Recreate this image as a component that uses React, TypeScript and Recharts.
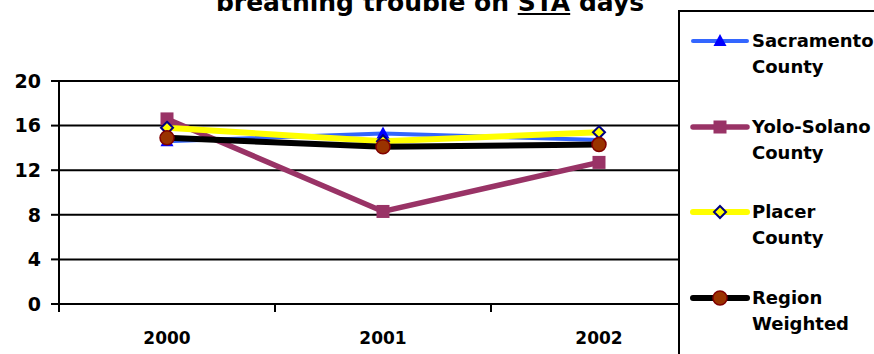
import React from 'react';
import { LineChart, Line, XAxis, YAxis, CartesianGrid, Legend } from 'recharts';

const years = ['2000', '2001', '2002'];
const sacramento = [14.6, 15.3, 14.7];
const yoloSolano = [16.6, 8.3, 12.7];
const placer = [15.8, 14.6, 15.4];
const regionWeighted = [14.9, 14.1, 14.3];
const yTicks = [0, 4, 8, 12, 16, 20];

const W = 874;
const H = 354;
const FONT = '"DejaVu Sans", Arial, sans-serif';

// x runs on a number scale so tick marks can sit between the years
const data = years.map((year, i) => ({
  x: i + 0.5,
  year,
  sacramento: sacramento[i],
  yoloSolano: yoloSolano[i],
  placer: placer[i],
  regionWeighted: regionWeighted[i],
}));

type Shape = 'triangle' | 'square' | 'diamond' | 'circle';

const series: { key: string; name: string; color: string; width: number; shape: Shape }[] = [
  { key: 'sacramento', name: 'Sacramento County', color: '#3366FF', width: 4, shape: 'triangle' },
  { key: 'yoloSolano', name: 'Yolo-Solano County', color: '#993366', width: 5.5, shape: 'square' },
  { key: 'placer', name: 'Placer County', color: '#FFFF00', width: 6, shape: 'diamond' },
  { key: 'regionWeighted', name: 'Region Weighted', color: '#000000', width: 6, shape: 'circle' },
];

const Marker = ({ cx, cy, shape }: { cx: number; cy: number; shape: Shape }) => {
  if (shape === 'triangle') {
    return <polygon points={`${cx},${cy - 7} ${cx - 6.5},${cy + 5} ${cx + 6.5},${cy + 5}`} fill="#0000FF" />;
  }
  if (shape === 'square') {
    return <rect x={cx - 6.5} y={cy - 6.5} width={13} height={13} fill="#993366" />;
  }
  if (shape === 'diamond') {
    return (
      <polygon
        points={`${cx},${cy - 6} ${cx + 6},${cy} ${cx},${cy + 6} ${cx - 6},${cy}`}
        fill="#FFFF00"
        stroke="#000080"
        strokeWidth={2}
      />
    );
  }
  return <circle cx={cx} cy={cy} r={7} fill="#993300" stroke="#800000" strokeWidth={1.5} />;
};

const X_TICK = 8;
const X_GAP = 20;

const XTick = (props: any) => {
  const { x, y, payload } = props;
  const v = payload.value;
  if (Number.isInteger(v)) {
    return <line x1={x} x2={x} y1={y - X_TICK - X_GAP} y2={y - X_GAP} stroke="#000" strokeWidth={2} />;
  }
  const label = years[Math.floor(v)];
  return (
    <text x={x} y={y} dy="0.71em" textAnchor="middle" fontFamily={FONT} fontWeight="bold" fontSize={17} fill="#000">
      {label}
    </text>
  );
};

const renderLegend = (props: any) => {
  const items = (props.payload || []) as any[];
  // keep series order rather than the legend's sorted order
  const rows = series.filter((s) => items.some((it) => it.dataKey === s.key));
  return (
    <div style={{ paddingTop: 16, paddingLeft: 10 }}>
      {rows.map((s) => {
        const [first, ...rest] = s.name.split(' ');
        return (
          <div key={s.key} style={{ display: 'flex', height: 85.5, alignItems: 'flex-start' }}>
            <svg width={62} height={26} style={{ flex: 'none' }}>
              <line x1={3} x2={57} y1={13} y2={13} stroke={s.color} strokeWidth={s.width} strokeLinecap="round" />
              <Marker cx={30} cy={13} shape={s.shape} />
            </svg>
            <div
              style={{
                fontFamily: FONT,
                fontWeight: 'bold',
                fontSize: 18,
                lineHeight: '26px',
                color: '#000',
                whiteSpace: 'nowrap',
              }}
            >
              <div>{first}</div>
              <div>{rest.join(' ')}</div>
            </div>
          </div>
        );
      })}
    </div>
  );
};

export default function App() {
  return (
    <div style={{ position: 'absolute', left: 0, top: 0, width: W, height: H, overflow: 'hidden', background: '#fff' }}>
      <div
        style={{
          position: 'absolute',
          top: -10,
          left: 0,
          width: 860,
          textAlign: 'center',
          fontFamily: FONT,
          fontWeight: 'bold',
          fontSize: 25,
          lineHeight: '25px',
          whiteSpace: 'nowrap',
          zIndex: 2,
        }}
      >
        breathing trouble on <span style={{ textDecoration: 'underline' }}>STA</span> days
      </div>
      <LineChart width={W} height={H} data={data} margin={{ top: 81, right: 167, bottom: 0, left: 0 }}>
        <CartesianGrid vertical={false} stroke="#000" strokeWidth={2} />
        <XAxis
          dataKey="x"
          type="number"
          domain={[0, 3]}
          ticks={[0, 0.5, 1, 1.5, 2, 2.5, 3]}
          height={50}
          axisLine={{ stroke: '#000', strokeWidth: 2 }}
          tickLine={false}
          tickSize={X_TICK}
          tickMargin={X_GAP}
          tick={<XTick />}
          interval={0}
        />
        <YAxis
          domain={[0, 20]}
          ticks={yTicks}
          width={59}
          axisLine={{ stroke: '#000', strokeWidth: 2 }}
          tickLine={{ stroke: '#000', strokeWidth: 2 }}
          tickSize={8}
          tickMargin={10}
          tick={{ fill: '#000', fontFamily: FONT, fontWeight: 'bold', fontSize: 19 }}
          interval={0}
        />
        {series.map((s) => (
          <Line
            key={s.key}
            dataKey={s.key}
            name={s.name}
            stroke={s.color}
            strokeWidth={s.width}
            isAnimationActive={false}
            dot={(p: any) => <Marker key={`${s.key}-${p.index}`} cx={p.cx} cy={p.cy} shape={s.shape} />}
            activeDot={false}
          />
        ))}
        <Legend
          layout="vertical"
          align="center"
          verticalAlign="middle"
          content={renderLegend}
          wrapperStyle={{
            position: 'absolute',
            left: 678,
            top: 10,
            width: 230,
            height: 370,
            background: '#fff',
            border: '2px solid #000',
            boxSizing: 'border-box',
          }}
        />
      </LineChart>
    </div>
  );
}
